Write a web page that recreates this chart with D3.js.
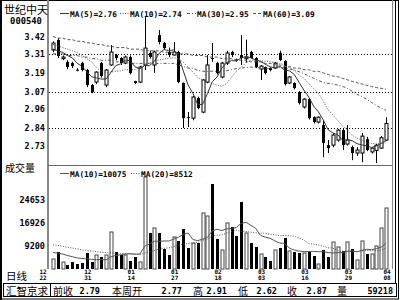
<!DOCTYPE html>
<html><head><meta charset="utf-8">
<script src="https://cdn.jsdelivr.net/npm/d3@7"></script>
<style>body{margin:0;background:#fff}svg{display:block}</style>
</head><body><svg id="c" width="400" height="300"></svg>
<script>
const dates = ["12/22","12/23","12/24","12/27","12/28","12/29","12/30","12/31",
 "01/04","01/05","01/06","01/07","01/10","01/11","01/12","01/13","01/14",
 "01/17","01/18","01/19","01/20","01/21","01/24","01/25","01/26","01/27","01/28","01/31",
 "02/01","02/02","02/03","02/04","02/16","02/17","02/18","02/21","02/22","02/23","02/24","02/25","02/28",
 "03/01","03/02","03/03","03/04","03/07","03/08","03/09","03/10","03/11","03/14","03/15","03/16",
 "03/17","03/18","03/21","03/22","03/23","03/24","03/25","03/28","03/29","03/30","03/31",
 "04/01","04/04","04/05","04/06","04/07","04/08"];
const xLabels = ["12/22","12/31","01/14","01/27","02/18","03/03","03/16","03/29","04/08"];
const openP = [3.335,3.398,3.28,3.259,3.252,3.21,3.252,3.208,3.113,3.132,
 3.252,3.113,3.24,3.303,3.284,3.252,3.29,3.138,3.132,3.24,
 3.316,3.24,3.429,3.379,3.322,3.303,3.322,3.126,2.91,2.904,
 3.031,2.942,3.132,3.284,3.252,3.164,3.252,3.322,3.275,3.303,
 3.28,3.322,3.284,3.214,3.227,3.221,3.221,3.316,3.265,3.126,
 3.126,3.069,2.974,3.024,2.91,2.879,2.86,2.733,2.733,2.765,
 2.828,2.74,2.721,2.683,2.683,2.77,2.69,2.70,2.714,2.765];
const highP = [3.39,3.41,3.30,3.27,3.26,3.22,3.26,3.215,3.12,3.20,
 3.26,3.215,3.366,3.31,3.29,3.30,3.30,3.14,3.235,3.543,
 3.33,3.33,3.461,3.385,3.35,3.385,3.33,3.13,2.942,3.045,
 3.04,3.15,3.303,3.379,3.26,3.26,3.33,3.33,3.28,3.429,
 3.40,3.33,3.29,3.24,3.23,3.225,3.26,3.33,3.27,3.17,
 3.13,3.075,3.03,3.03,2.915,2.915,2.892,2.765,2.81,2.835,
 2.835,2.86,2.73,2.72,2.81,2.785,2.72,2.74,2.79,2.91];
const lowP = [3.32,3.284,3.27,3.214,3.22,3.20,3.20,3.10,3.062,3.12,
 3.16,3.10,3.235,3.27,3.24,3.245,3.18,3.12,3.125,3.208,
 3.28,3.19,3.37,3.34,3.29,3.30,3.125,2.841,2.847,2.89,
 2.96,2.935,3.125,3.26,3.18,3.155,3.24,3.29,3.26,3.24,
 3.255,3.28,3.22,3.145,3.18,3.20,3.215,3.265,3.11,3.12,
 3.085,2.99,2.965,2.895,2.87,2.87,2.657,2.683,2.72,2.755,
 2.702,2.73,2.638,2.665,2.625,2.695,2.68,2.62,2.71,2.76];
const closeP = [3.379,3.297,3.29,3.227,3.233,3.205,3.208,3.113,3.069,3.195,
 3.17,3.208,3.322,3.284,3.252,3.29,3.189,3.126,3.227,3.347,
 3.29,3.322,3.385,3.347,3.303,3.322,3.132,2.904,2.904,3.037,
 2.967,3.145,3.24,3.28,3.189,3.252,3.316,3.303,3.27,3.284,
 3.29,3.284,3.227,3.233,3.189,3.208,3.252,3.271,3.119,3.164,
 3.094,2.999,3.024,2.904,2.879,2.91,2.746,2.714,2.797,2.828,
 2.733,2.765,2.683,2.702,2.79,2.702,2.714,2.733,2.78,2.87];
const volume = [4834,7186,3826,2818,3826,3154,3490,6850,3826,6178,
 5506,6178,13906,7186,6178,6178,4162,5506,3826,32386,
 13570,15250,13570,8194,6178,12226,10882,14914,8530,10210,
 10210,20290,19282,30034,11554,7858,16930,15586,12562,23986,
 13570,10210,8866,6514,5506,4162,7858,8530,11890,7522,
 7186,6850,6850,7186,5842,3154,7858,5506,10546,8866,
 7522,10546,8194,4498,10882,6514,6514,9202,15250,21970];
const ma5Lead = [3.34,3.33,3.32,3.30];
const ma10Lead = [3.37,3.36,3.35,3.34,3.33,3.32,3.30,3.28,3.26];
const ma30Lead = [3.31,3.31,3.31,3.30,3.30,3.30,3.29,3.29,3.28,3.28,3.27,3.27,3.27,3.26,3.26,
 3.26,3.25,3.25,3.25,3.25,3.25,3.25,3.25,3.25,3.25,3.25,3.24,3.23,3.22];
const ma60Lead = [3.42,3.41,3.41,3.40,3.40,3.39,3.39,3.38,3.38,3.37,3.37,3.36,3.36,3.35,3.35,
 3.35,3.34,3.34,3.34,3.33,3.33,3.33,3.33,3.32,3.32,3.32,3.31,3.31,3.31,3.30,
 3.30,3.30,3.29,3.29,3.29,3.28,3.28,3.28,3.27,3.27,3.27,3.26,3.26,3.26,3.25,
 3.25,3.24,3.24,3.23,3.23,3.22,3.22,3.21,3.21,3.20,3.20,3.19,3.18,3.17];
const volMa10Lead = [7000,6800,6500,6000,5600,5200,5000,4900,4700];
const volMa20Lead = [9600,9400,9100,8800,8500,8200,7900,7700,7500,7300,7100,7000,6900,6800,6700,6600,6500,6400,6300];
const priceTicks = [3.42,3.31,3.19,3.07,2.96,2.84,2.73];
const priceGrid = [3.31,3.07,2.84];
const volTicks = [24653,16926,9200];
const legendPrice = [["MA(5)","2.76"],["MA(10)","2.74"],["MA(30)","2.95"],["MA(60)","3.09"]];
const legendVol = [["MA(10)","10075"],["MA(20)","8512"]];
const statusItems = [["前收","2.79"],["本周开","2.77"],["高","2.91"],["低","2.62"],["收","2.87"],["量","59218"]];

function ma(arr, n, lead){ return arr.map((_,i)=> i>=n-1 ? d3.mean(arr.slice(i-n+1,i+1)) : lead[i]); }

const svg = d3.select("#c");
const MONO = "'DejaVu Sans Mono', monospace";
const CJK = "'Noto Sans CJK SC', sans-serif";
const PL = 48, PR = 392, PT = 3, PB = 165, VB = 269;
const x = d3.scaleLinear().domain([0, dates.length-1]).range([53, 386]);
const y = d3.scaleLinear().domain([2.62, 3.632]).range([163, 3]);
const yv = d3.scaleLinear().domain([1474, 24653]).range([VB, 200]);

// frames
svg.append("rect").attr("x",1).attr("y",0.5).attr("width",397.5).attr("height",298.5)
  .attr("fill","none").attr("stroke","#000").attr("stroke-width",1);
svg.append("line").attr("x1",1).attr("x2",1).attr("y1",0).attr("y2",300).attr("stroke","#000").attr("stroke-width",2);
svg.append("line").attr("x1",395.5).attr("x2",395.5).attr("y1",0).attr("y2",283).attr("stroke","#000");
svg.append("line").attr("x1",PR+0.5).attr("x2",PR+0.5).attr("y1",0).attr("y2",VB).attr("stroke","#888");
svg.append("line").attr("x1",PL).attr("x2",PL).attr("y1",0).attr("y2",VB).attr("stroke","#888").attr("stroke-width",2);
svg.append("line").attr("x1",PL).attr("x2",PR).attr("y1",PB+0.5).attr("y2",PB+0.5).attr("stroke","#666");

const defs = svg.append("defs");
defs.append("clipPath").attr("id","cp").append("rect").attr("x",PL+1).attr("y",PT).attr("width",PR-PL-1).attr("height",PB-PT);
defs.append("clipPath").attr("id","cv").append("rect").attr("x",PL+1).attr("y",PB+1).attr("width",PR-PL-1).attr("height",VB-PB);

// header
svg.append("text").attr("x",26).attr("y",14).attr("text-anchor","middle").attr("font-family",CJK)
  .attr("font-size",11).text("世纪中天");
svg.append("text").attr("x",26).attr("y",24).attr("text-anchor","middle").attr("font-family",MONO)
  .attr("font-weight","bold").attr("font-size",8.8).text("000540");

// price ticks + grid
svg.append("g").selectAll("text").data(priceTicks).join("text")
  .attr("x",45).attr("y",d=>y(d)+3).attr("text-anchor","end").attr("font-family",MONO)
  .attr("font-weight","bold").attr("font-size",8.5).text(d=>d.toFixed(2));
svg.append("g").selectAll("line").data(priceGrid).join("line")
  .attr("x1",PL+1).attr("x2",PR).attr("y1",d=>Math.round(y(d))+0.5).attr("y2",d=>Math.round(y(d))+0.5)
  .attr("stroke","#000").attr("stroke-dasharray","1,2");

// candles
const idx = d3.range(dates.length);
const gc = svg.append("g").attr("clip-path","url(#cp)");
gc.selectAll("line.w").data(idx).join("line").attr("class","w")
  .attr("x1",i=>Math.round(x(i))+0.5).attr("x2",i=>Math.round(x(i))+0.5)
  .attr("y1",i=>y(highP[i])).attr("y2",i=>y(lowP[i])).attr("stroke","#000");
gc.selectAll("rect").data(idx).join("rect")
  .attr("x",i=>Math.round(x(i))-1)
  .attr("y",i=>y(Math.max(openP[i],closeP[i])))
  .attr("width",3)
  .attr("height",i=>Math.max(1,Math.abs(y(openP[i])-y(closeP[i]))))
  .attr("fill",i=>closeP[i]>=openP[i]?"#fff":"#000")
  .attr("stroke",i=>closeP[i]>=openP[i]?"#000":"none").attr("stroke-width",1);

// MA lines
const maStyles = [
  {vals: ma(closeP,5,ma5Lead), dash:null, color:"#333"},
  {vals: ma(closeP,10,ma10Lead), dash:"1,1.5", color:"#555"},
  {vals: ma(closeP,30,ma30Lead), dash:"3,2,1,2", color:"#555"},
  {vals: ma(closeP,60,ma60Lead), dash:"3,2", color:"#555"}
];
const lineP = d3.line().x((d,i)=>x(i)).y(d=>y(d));
maStyles.forEach(s=>{
  gc.append("path").attr("d",lineP(s.vals)).attr("fill","none").attr("stroke",s.color)
    .attr("stroke-width",1).attr("stroke-dasharray",s.dash);
});

// price legend
const legPos = [60,120,187,253];
legendPrice.forEach((d,k)=>{
  const s = maStyles[k];
  svg.append("line").attr("x1",legPos[k]).attr("x2",legPos[k]+9).attr("y1",13.5).attr("y2",13.5)
    .attr("stroke",s.color).attr("stroke-dasharray",s.dash);
  svg.append("text").attr("x",legPos[k]+10).attr("y",16.5).attr("font-family",MONO).attr("font-weight","bold")
    .attr("font-size",7.8).text(d[0]+"="+d[1]);
});

// volume
svg.append("text").attr("x",5).attr("y",172).attr("font-family",CJK).attr("font-size",10).text("成交量");
svg.append("g").selectAll("text").data(volTicks).join("text")
  .attr("x",45).attr("y",d=>yv(d)+3).attr("text-anchor","end").attr("font-family",MONO)
  .attr("font-weight","bold").attr("font-size",8.5).text(d=>d);
const gv = svg.append("g").attr("clip-path","url(#cv)");
gv.selectAll("rect").data(idx).join("rect")
  .attr("x",i=>Math.round(x(i))-1).attr("y",i=>yv(volume[i]))
  .attr("width",3).attr("height",i=>VB-yv(volume[i]))
  .attr("fill",i=>closeP[i]>=openP[i]?"#fff":"#000")
  .attr("stroke",i=>closeP[i]>=openP[i]?"#444":"none");
const volStyles = [
  {vals: ma(volume,10,volMa10Lead), dash:null, color:"#555"},
  {vals: ma(volume,20,volMa20Lead), dash:"1,1.5", color:"#555"}
];
const lineV = d3.line().x((d,i)=>x(i)).y(d=>yv(d));
volStyles.forEach(s=>{
  gv.append("path").attr("d",lineV(s.vals)).attr("fill","none").attr("stroke",s.color)
    .attr("stroke-dasharray",s.dash);
});
const legVPos = [60,131];
legendVol.forEach((d,k)=>{
  const s = volStyles[k];
  svg.append("line").attr("x1",legVPos[k]).attr("x2",legVPos[k]+9).attr("y1",173.5).attr("y2",173.5)
    .attr("stroke",s.color).attr("stroke-dasharray",s.dash);
  svg.append("text").attr("x",legVPos[k]+10).attr("y",176.5).attr("font-family",MONO).attr("font-weight","bold")
    .attr("font-size",7.8).text(d[0]+"="+d[1]);
});

// date axis
svg.append("text").attr("x",6).attr("y",280).attr("font-family",CJK).attr("font-size",10.5).text("日线");
xLabels.forEach((lab,k)=>{
  const i = dates.indexOf(lab);
  const lx = k===0 ? x(i)-10 : x(i)+1;
  const t = svg.append("text").attr("text-anchor","middle").attr("font-family",MONO)
    .attr("font-weight","bold").attr("font-size",6);
  t.append("tspan").attr("x",lx).attr("y",274).text(lab.slice(0,2));
  t.append("tspan").attr("x",lx).attr("y",280).text(lab.slice(3));
});

// status bar
svg.append("rect").attr("x",3.5).attr("y",283.5).attr("width",393).attr("height",13).attr("fill","none").attr("stroke","#000");
svg.append("line").attr("x1",50.5).attr("x2",50.5).attr("y1",283.5).attr("y2",296.5).attr("stroke","#000");
svg.append("text").attr("x",27).attr("y",294.5).attr("text-anchor","middle").attr("font-family",CJK)
  .attr("font-size",10.5).text("汇智京求");
const labX = [53,112,193,238,287,337];
const valX = [100,182,227,277,327,393];
statusItems.forEach((d,k)=>{
  svg.append("text").attr("x",labX[k]).attr("y",294.5).attr("font-family",CJK).attr("font-size",10).text(d[0]);
  svg.append("text").attr("x",valX[k]).attr("y",293.5).attr("text-anchor","end").attr("font-family",MONO)
    .attr("font-weight","bold").attr("font-size",8.5).text(d[1]);
});
</script></body></html>
